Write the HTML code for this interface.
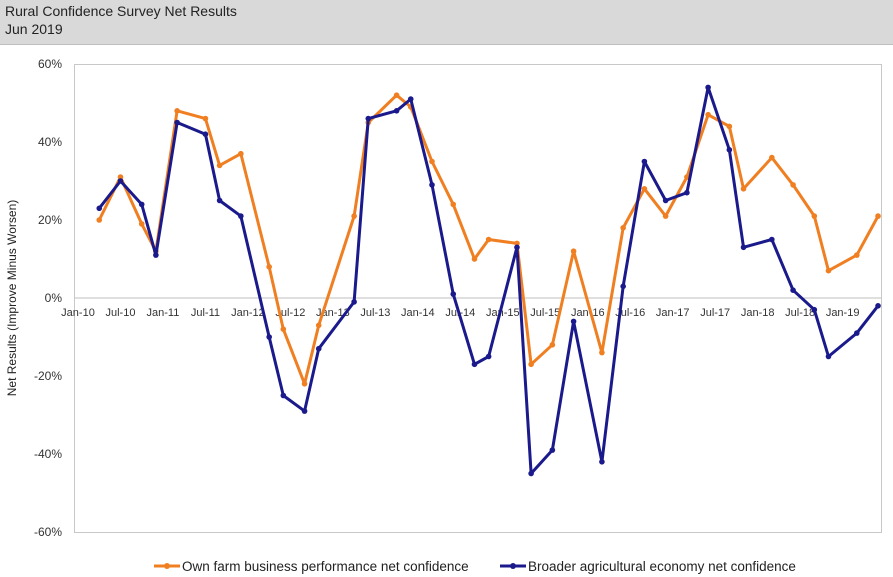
<!DOCTYPE html>
<html><head><meta charset="utf-8"><style>
body{margin:0;width:893px;height:577px;overflow:hidden;background:#fff;font-family:"Liberation Sans",sans-serif}
#hdr{position:absolute;left:0;top:0;width:893px;height:44px;background:#d9d9d9;border-bottom:1px solid #bfbfbf}
#hdr div{position:absolute;left:5px;font-size:14px;color:#222}
</style></head><body>
<div id="hdr">
<div style="top:3px">Rural Confidence Survey Net Results</div>
<div style="top:21px">Jun 2019</div>
</div>
<svg id="c" width="893" height="577" style="position:absolute;left:0;top:0"></svg>
<script>
const months=[3,6,9,11,14,18,20,23,27,29,32,34,39,41,45,47,50,53,56,58,62,64,67,70,74,77,80,83,86,89,92,94,98,101,104,106,110,113];
const ownFarm=[20,31,19,12,48,46,34,37,8,-8,-22,-7,21,45,52,49,35,24,10,15,14,-17,-12,12,-14,18,28,21,31,47,44,28,36,29,21,7,11,21];
const broader=[23,30,24,11,45,42,25,21,-10,-25,-29,-13,-1,46,48,51,29,1,-17,-15,13,-45,-39,-6,-42,3,35,25,27,54,38,13,15,2,-3,-15,-9,-2];
const xLabels=["Jan-10","Jul-10","Jan-11","Jul-11","Jan-12","Jul-12","Jan-13","Jul-13","Jan-14","Jul-14","Jan-15","Jul-15","Jan-16","Jul-16","Jan-17","Jul-17","Jan-18","Jul-18","Jan-19"];
const yTicks=[60,40,20,0,-20,-40,-60];
const NS="http://www.w3.org/2000/svg",svg=document.getElementById('c');
const X=m=>78+m*7.08, Y=v=>298-v*3.9;
function el(t,a,p){const e=document.createElementNS(NS,t);for(const k in a)e.setAttribute(k,a[k]);(p||svg).appendChild(e);return e;}
const frame=el('rect',{x:74.5,y:64.5,width:807,height:468,fill:'none',stroke:'#c8c8c8'});


const zl=el('line',{x1:75,x2:881,y1:Y(0),y2:Y(0),stroke:'#bfbfbf'});


yTicks.forEach(v=>{const t=el('text',{x:62,y:Y(v)+4,'text-anchor':'end','font-size':12,fill:'#333'});t.textContent=v+'%';

});
xLabels.forEach((s,i)=>{const t=el('text',{x:X(i*6),y:Y(0)+18,'text-anchor':'middle','font-size':11,fill:'#333'});t.textContent=s;

});
const yt=el('text',{x:0,y:0,transform:'translate(16,298) rotate(-90)','text-anchor':'middle','font-size':12,fill:'#222'});yt.textContent='Net Results (Improve Minus Worsen)';


function series(vals,col,name){
 const g=el('g',{});
 
 
 el('polyline',{points:vals.map((v,i)=>X(months[i])+','+Y(v)).join(' '),fill:'none',stroke:col,'stroke-width':3,'stroke-linejoin':'round'},g);
 vals.forEach((v,i)=>{const c=el('circle',{cx:X(months[i]),cy:Y(v),r:2.8,fill:col},g);
 
 });
}
series(ownFarm,'#f07f22','own-farm-series');
series(broader,'#1a1a8c','broader-economy-series');
function legend(x,col,txt,name){const g=el('g',{});


el('line',{x1:x,x2:x+26,y1:566,y2:566,stroke:col,'stroke-width':3},g);el('circle',{cx:x+13,cy:566,r:3,fill:col},g);
const t=el('text',{x:x+28,y:571,'font-size':13.5,fill:'#222'},g);t.textContent=txt;}
legend(154,'#f07f22','Own farm business performance net confidence','legend-own-farm');
legend(500,'#1a1a8c','Broader agricultural economy net confidence','legend-broader-economy');
</script>
</body></html>
